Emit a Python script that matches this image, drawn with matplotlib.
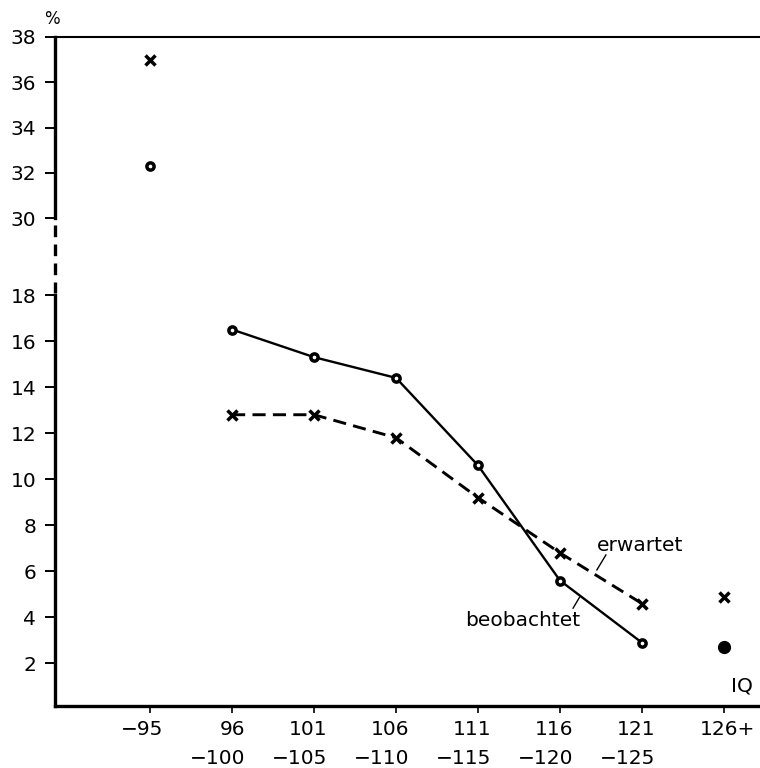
import matplotlib
matplotlib.use("Agg")
import matplotlib.pyplot as plt
import matplotlib.transforms as mtransforms
from matplotlib.lines import Line2D

plt.rcParams['font.family'] = ['DejaVu Sans']

# ---- data ----
categories = ["\u221295", "96\n\u2212100", "101\n\u2212105", "106\n\u2212110",
              "111\n\u2212115", "116\n\u2212120", "121\n\u2212125", "126+"]
beobachtet = [32.3, 16.5, 15.3, 14.4, 10.6, 5.6, 2.9, 2.7]
erwartet = [37.0, 12.8, 12.8, 11.8, 9.2, 6.8, 4.6, 4.9]
top_ticks = [30, 32, 34, 36, 38]
bottom_ticks = [2, 4, 6, 8, 10, 12, 14, 16, 18]

FS = 14.5
W, H = 760, 768
fig = plt.figure(figsize=(W / 100, H / 100), dpi=100)

def frac(px_left, px_top, px_right, px_bottom):
    return [px_left / W, 1 - px_bottom / H, (px_right - px_left) / W, (px_bottom - px_top) / H]

ax_top = fig.add_axes(frac(55, 37, 760, 218))
ax_bot = fig.add_axes(frac(55, 295, 760, 706))

xs = list(range(len(categories)))
xlim = (-1.16, 7.44)
for ax in (ax_top, ax_bot):
    ax.set_xlim(*xlim)
    ax.set_facecolor('none')
    ax.spines['right'].set_visible(False)
    ax.spines['left'].set_linewidth(2.4)
    ax.tick_params(axis='y', direction='out', length=7.5, width=1.4, pad=6,
                   labelsize=FS, colors='black')

ax_top.set_ylim(30, 38)
ax_bot.set_ylim(0.15, 18)

ax_top.spines['bottom'].set_visible(False)
ax_top.spines['top'].set_linewidth(1.5)
ax_top.set_xticks([])
ax_top.set_yticks(top_ticks)

ax_bot.spines['top'].set_visible(False)
ax_bot.spines['bottom'].set_linewidth(2.4)
ax_bot.set_yticks(bottom_ticks)
ax_bot.set_xticks(xs)
ax_bot.set_xticklabels(categories, fontsize=FS, linespacing=1.65,
                       ha='right', multialignment='right')
ax_bot.tick_params(axis='x', direction='out', length=5, width=1.2, pad=5)
for i, lbl in enumerate(ax_bot.get_xticklabels()):
    dx = 31 if i == len(categories) - 1 else 13
    off = mtransforms.ScaledTranslation(dx / 100, 0, fig.dpi_scale_trans)
    lbl.set_transform(lbl.get_transform() + off)

CIRC = dict(marker='o', markerfacecolor='white', markeredgecolor='black',
            markersize=5.2, markeredgewidth=2.5)
CROSS = dict(marker='x', markeredgecolor='black', markersize=7.5, markeredgewidth=2.5)

# top segment: isolated first group
ax_top.plot(xs[0], erwartet[0], linestyle='none', clip_on=False, **CROSS)
ax_top.plot(xs[0], beobachtet[0], linestyle='none', clip_on=False, **CIRC)

# bottom segment: connected lines 96..125
seg = slice(1, 7)
ax_bot.plot(xs[seg], beobachtet[seg], color='black', linewidth=1.7, zorder=3, **CIRC)
ax_bot.plot(xs[seg], erwartet[seg], color='black', linewidth=2.1,
            linestyle=(0, (4.5, 2.5)), zorder=3, **CROSS)

# isolated last group
ax_bot.plot(xs[7], erwartet[7], linestyle='none', **CROSS)
ax_bot.plot(xs[7], beobachtet[7], linestyle='none', marker='o', color='black',
            markersize=8.5)

# annotations
ax_bot.text(5.98, 7.14, "erwartet", fontsize=FS, ha='center', va='center')
ax_bot.plot([5.56, 5.45], [6.71, 6.06], color='black', linewidth=1.0)
ax_bot.text(4.54, 3.88, "beobachtet", fontsize=FS, ha='center', va='center')
ax_bot.plot([5.16, 5.24], [4.4, 4.88], color='black', linewidth=1.0)
ax_bot.text(7.22, 1.02, "IQ", fontsize=FS, ha='center', va='center')

# broken axis dashed segment
fig.add_artist(Line2D([55 / W, 55 / W], [1 - 225 / H, 1 - 293 / H], color='black',
                      linewidth=2.4, linestyle=(0, (3.5, 2.2))))
# percent sign
fig.text(52 / W, 1 - 19 / H, "%", fontsize=12, ha='center', va='center')

fig.savefig("out.png", dpi=100)
